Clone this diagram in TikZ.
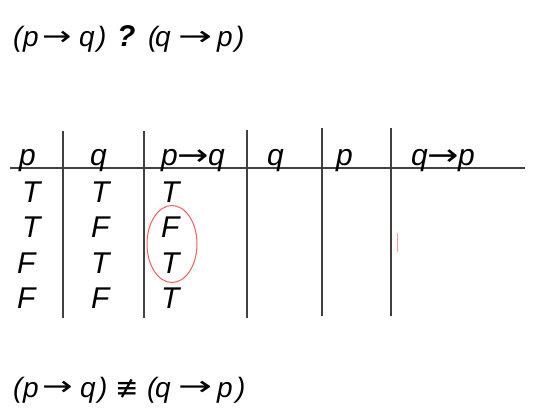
\documentclass[tikz,border=0pt]{standalone}
\usepackage{fontspec}
\usetikzlibrary{shapes.geometric}
\setmainfont{Liberation Sans}
\newfontfamily\djv{DejaVu Sans}
\newcommand{\tabarr}{\kern-0.02em{\upshape\djv\scalebox{1.25}[1]{→}}\kern-0.02em}
\begin{document}
\begin{tikzpicture}[x=1pt,y=-1pt,
  tok/.style={anchor=base west,inner sep=0pt,font=\fontsize{28}{32}\selectfont\itshape},
  arr/.style={anchor=west,inner sep=0pt,font=\fontsize{27}{32}\selectfont\djv},
  cell/.style={anchor=base west,inner sep=0pt,font=\fontsize{30}{32}\selectfont\itshape},
  rule/.style={draw=black!75,line width=1.2pt},
  ringstyle/.style={draw=red!65,line width=1pt}]
\useasboundingbox (0,0) rectangle (536,412);
% top line
\node[tok] (t1) at (13,47) {(};
\node[tok] (t2) at (23,47) {p};
\node[arr] (t3) at (42,38) {\scalebox{1.3}[1]{→}};
\node[tok] (t4) at (79,47) {q};
\node[tok] (t5) at (97,47) {)};
\node[tok] (t6) at (117,47) {\bfseries\fontsize{30}{32}\selectfont ?};
\node[tok] (t7) at (148,47) {(};
\node[tok] (t8) at (155,47) {q};
\node[arr] (t9) at (178,38) {\scalebox{1.5}[1]{→}};
\node[tok] (t10) at (217,47) {p};
\node[tok] (t11) at (235,47) {)};
% bottom line
\node[tok] (u1) at (13,397) {(};
\node[tok] (u2) at (23,397) {p};
\node[arr] (u3) at (42,388) {\scalebox{1.35}[1]{→}};
\node[tok] (u4) at (80,397) {q};
\node[tok] (u5) at (98,397) {)};
\node[anchor=base west,inner sep=0pt,font=\fontsize{28}{30}\selectfont\djv] (u6) at (115,397) {≢};
\node[tok] (u7) at (147,397) {(};
\node[tok] (u8) at (155,397) {q};
\node[arr] (u9) at (178,388) {\scalebox{1.5}[1]{→}};
\node[tok] (u10) at (217,397) {p};
\node[tok] (u11) at (236,397) {)};
% rules
\coordinate (hl) at (10,168); \coordinate (hr) at (525,168);
\draw[rule] (hl) -- (hr);
\foreach \x/\t/\b in {63/131/318,144/131/318,247/130/318,322/128/316,391/128/316}
  {\coordinate (t\x) at (\x,\t); \coordinate (b\x) at (\x,\b); \draw[rule] (t\x) -- (b\x);}
% header
\node[cell] (h1) at (19,165) {p};
\node[cell] (h2) at (90,165) {q};
\node[cell] (h3) at (161,165) {p\tabarr q};
\node[cell] (h4) at (267,165) {q};
\node[cell] (h5) at (336,165) {p};
\node[cell] (h6) at (411,165) {q\tabarr p};
% rows
\node[cell] (a1) at (22,202) {T}; \node[cell] (b1) at (91,202) {T}; \node[cell] (c1) at (161,202) {T};
\node[cell] (a2) at (22,237) {T}; \node[cell] (b2) at (91,237) {F}; \node[cell] (c2) at (161,237) {F};
\node[cell] (a3) at (17,273) {F}; \node[cell] (b3) at (91,273) {T}; \node[cell] (c3) at (161,273) {T};
\node[cell] (a4) at (17,308) {F}; \node[cell] (b4) at (91,308) {F}; \node[cell] (c4) at (161,308) {T};
% red ellipse
\node[ringstyle,ellipse,minimum width=50pt,minimum height=77pt,inner sep=0pt] (ring) at (172,244) {};
\coordinate (m1) at (397,233); \coordinate (m2) at (397,252);
\draw[draw=red!40,line width=0.8pt] (m1) -- (m2);
\end{tikzpicture}
\end{document}
